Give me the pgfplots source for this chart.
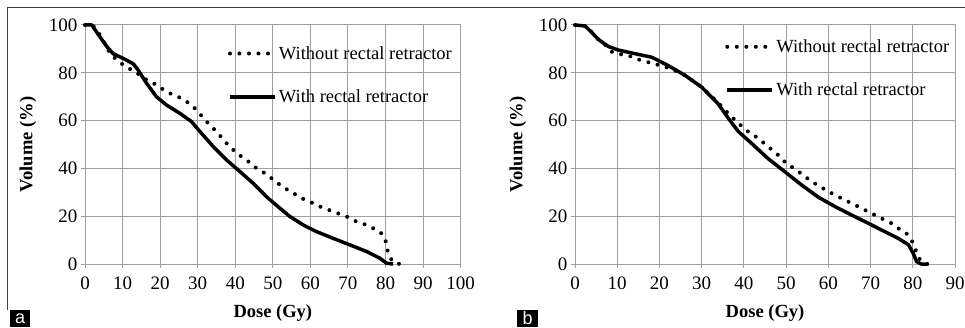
\documentclass[border=0pt]{standalone}
\usepackage{pgfplots}
\pgfplotsset{compat=1.18}
\usepackage{fontspec}
\setmainfont{Liberation Serif}
\newfontfamily\labfont{Liberation Sans}
\newcommand\bigf{\fontsize{18.5bp}{22bp}\selectfont}
\newcommand\tickf{\fontsize{19bp}{21bp}\selectfont}

\pgfplotstableread{
x y
0 100
2 100
3.5 97
5 93
6.7 88
9.1 84.5
11.5 82
13.3 80.5
16.4 77
19 75
21.7 72
24.8 70
28 67
29.7 64.4
32.4 59.5
35 55.4
37.7 50.5
40.4 46.3
43 43.5
45.7 40
48.4 37.5
50.6 34.6
53.2 31.7
55.5 29.6
57.7 27.5
59.9 26
62.6 24
66.1 21.9
69.7 19.8
72.3 17.7
75 16.3
78.5 13.5
79.9 10.7
80.3 7.3
80.7 4.5
81.6 1.7
82.5 0.3
84 0
}\aWithout

\pgfplotstableread{
x y
0 100
1.8 100
4 95
5.8 91
7.5 88
10.2 86
12.9 83.7
14.2 81
16.4 75.6
19 70
21.7 66.5
25.3 63
28.4 59.5
30.6 55.4
34.2 49
37.7 43.5
41.3 38.6
44.8 33.7
48.4 28
51.9 23.3
54.6 19.8
58.1 16.3
61.7 13.5
66.1 10.7
70.5 8
75 5.2
78.5 2.4
80.3 0.3
82 0
}\aWith

\pgfplotstableread{
x y
0 100
2.4 99.6
3.9 97
5.5 94
7.9 90.5
8.7 88.8
11 87.7
13.4 86.8
15 85.6
16.6 84.7
18.5 84
20.5 82.8
22.5 81.9
26 79
30 74
33.9 67.5
35.5 64.4
37.1 61.6
38.7 58.9
41 55.4
43.4 52.6
45.8 49
48.1 45.6
50.1 42
52.5 39.3
54.5 36.5
56.8 33.7
60 30.3
63.1 27.5
65.5 25.4
67.9 23.3
70.2 21.2
72.6 19.1
75 17
76.6 14.9
78.5 12.8
79.7 10
80.5 6.6
81.3 3
82 1
83.4 0
}\bWithout

\pgfplotstableread{
x y
0 100
2.4 99.6
3.9 97
5.5 94
7.9 91
10.3 89.5
14.2 88
18.2 86.5
22.1 83
26 79
30 74
33.9 67
36.3 61
38.7 55.4
41.8 50.5
45.8 44
49.7 38.6
53.7 33
57.6 28
61.6 24
65.5 20.5
69.5 17
73.4 13.5
76.6 10.7
79 8
80.1 4.5
80.9 1
82 0
83.7 0
}\bWith

\pgfplotsset{
  dvhax/.style={
    scale only axis,
    anchor=south west,
    height=239bp,
    xmin=0, ymin=0, ymax=100,
    ytick={0,20,...,100},
    grid=major,
    major grid style={draw=gray!75, line width=1bp},
    axis line style={draw=gray!75, line width=1bp},
    tick style={draw=gray!75, line width=1bp},
    tick align=outside,
    major tick length=4bp,
    xtick pos=bottom, ytick pos=left,
    clip=false,
    tick label style={font=\tickf},
    label style={font=\bigf\bfseries},
    xticklabel style={yshift=-5bp},
    /pgf/number format/assume math mode=true,
    xlabel={Dose (Gy)},
    ylabel={Volume (\%)},
    legend cell align=left,
    legend image code/.code={\draw[##1] (0bp,0bp) -- (45bp,0bp);},
  },
  dotsty/.style={black, line width=4bp, dash pattern=on 0bp off 9.5bp, line cap=round},
  solsty/.style={black, line width=3.5bp, line join=round},
}

\begin{document}
\begin{tikzpicture}[x=1bp,y=1bp]
\useasboundingbox (0,0) rectangle (965,327);
\draw[line width=1bp, black!75] (7,319) -- (965,319);
\draw[line width=1bp, black!75] (7,319) -- (7,17);

\begin{axis}[dvhax,
  at={(85bp,63bp)}, width=375.7bp,
  xmax=100, xtick={0,10,...,100},
  xlabel style={at={(axis description cs:0.5,-0.205)}, anchor=center},
  ylabel style={at={(axis description cs:-0.152,0.5)}, anchor=center},
  legend style={draw=none, fill=none, font=\bigf, at={(0.38,0.92)}, anchor=north west, row sep=25bp, inner sep=0pt},
]
\addplot[dotsty] table {\aWithout};
\addlegendentry{Without rectal retractor}
\addplot[solsty] table {\aWith};
\addlegendentry{With rectal retractor}
\end{axis}

\begin{axis}[dvhax,
  at={(575bp,63bp)}, width=380bp,
  xmax=90, xtick={0,10,...,90},
  xlabel style={at={(axis description cs:0.5,-0.205)}, anchor=center},
  ylabel style={at={(axis description cs:-0.15,0.5)}, anchor=center},
  legend style={draw=none, fill=none, font=\bigf, at={(0.395,0.948)}, anchor=north west, row sep=25bp, inner sep=0pt},
]
\addplot[dotsty] table {\bWithout};
\addlegendentry{Without rectal retractor}
\addplot[solsty] table {\bWith};
\addlegendentry{With rectal retractor}
\end{axis}

\node[fill=black, text=white, font=\labfont\fontsize{18bp}{18bp}\selectfont, minimum width=20bp, minimum height=17bp, inner sep=0pt, anchor=south west] at (10,0) {a};
\node[fill=black, text=white, font=\labfont\fontsize{18bp}{18bp}\selectfont, minimum width=21bp, minimum height=17bp, inner sep=0pt, anchor=south west] at (517,0) {b};
\end{tikzpicture}
\end{document}
